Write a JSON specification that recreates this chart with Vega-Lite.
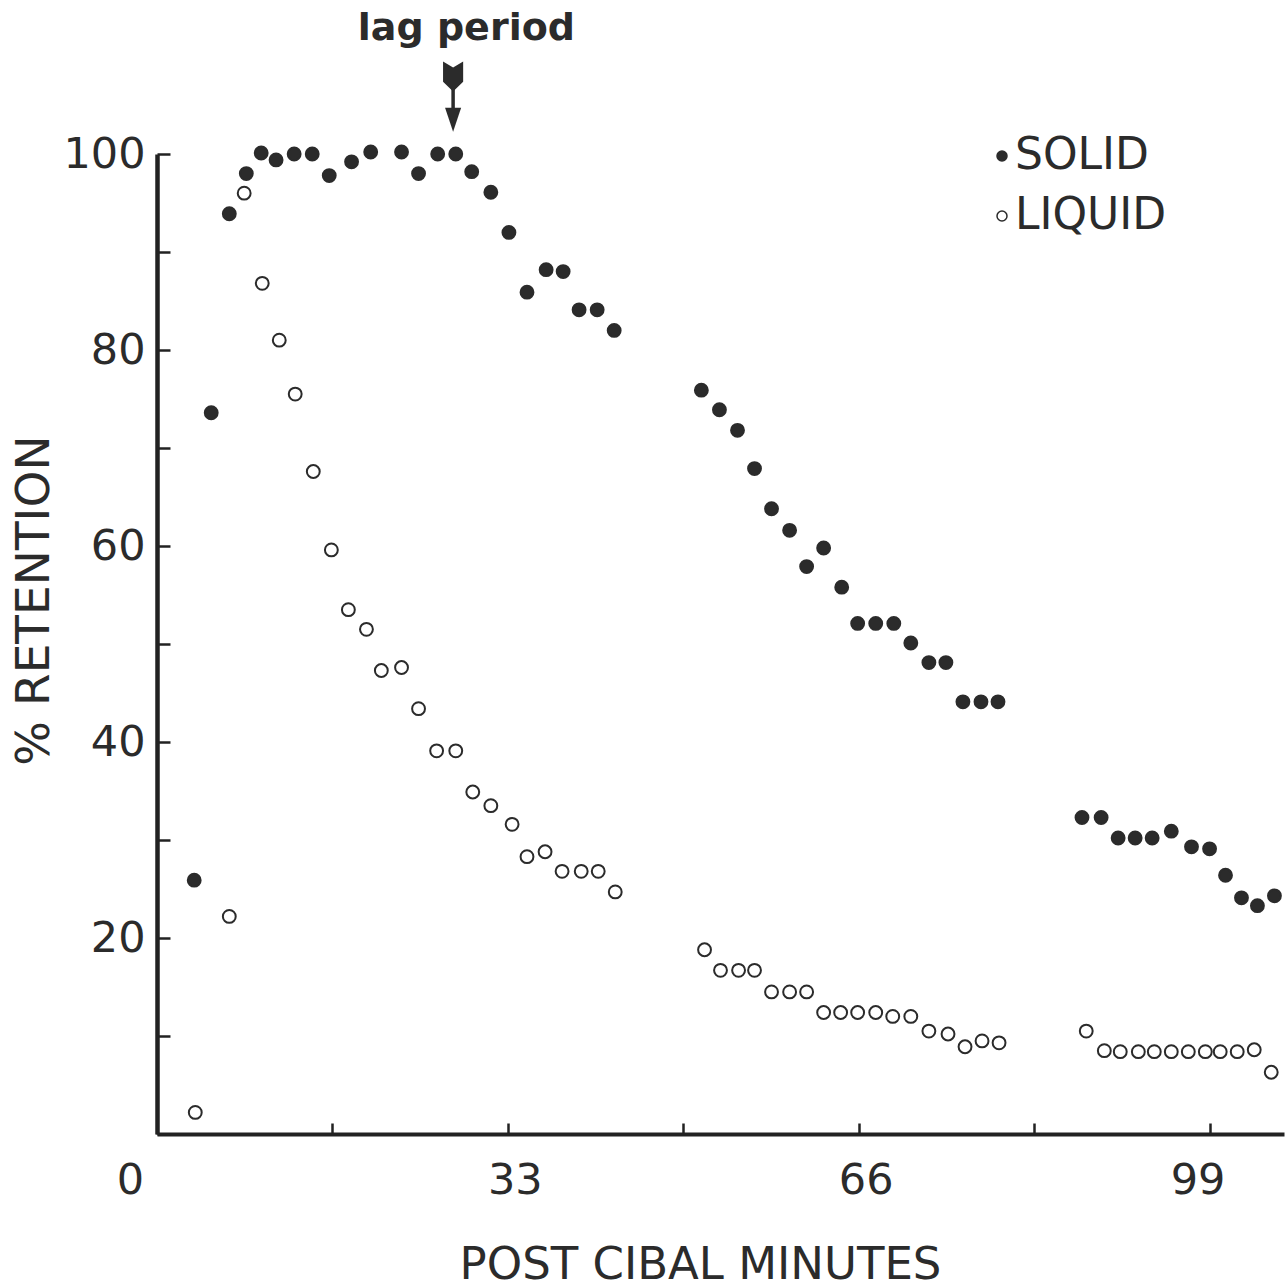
{
  "$schema": "https://vega.github.io/schema/vega-lite/v6.json",
  "width": 1127,
  "height": 980,
  "autosize": "none",
  "padding": {"left": 157, "top": 154, "right": 1, "bottom": 154},
  "background": "white",
  "config": {
    "view": {"stroke": null},
    "font": "DejaVu Sans"
  },
  "datasets": {
    "pts": [
      {"t": 3.5, "r": 25.9, "type": "SOLID"},
      {"t": 5.1, "r": 73.6, "type": "SOLID"},
      {"t": 6.8, "r": 93.9, "type": "SOLID"},
      {"t": 8.4, "r": 98.0, "type": "SOLID"},
      {"t": 9.8, "r": 100.1, "type": "SOLID"},
      {"t": 11.2, "r": 99.4, "type": "SOLID"},
      {"t": 12.9, "r": 100.0, "type": "SOLID"},
      {"t": 14.6, "r": 100.0, "type": "SOLID"},
      {"t": 16.2, "r": 97.8, "type": "SOLID"},
      {"t": 18.3, "r": 99.2, "type": "SOLID"},
      {"t": 20.1, "r": 100.2, "type": "SOLID"},
      {"t": 23.0, "r": 100.2, "type": "SOLID"},
      {"t": 24.6, "r": 98.0, "type": "SOLID"},
      {"t": 26.4, "r": 100.0, "type": "SOLID"},
      {"t": 28.1, "r": 100.0, "type": "SOLID"},
      {"t": 29.6, "r": 98.2, "type": "SOLID"},
      {"t": 31.4, "r": 96.1, "type": "SOLID"},
      {"t": 33.1, "r": 92.0, "type": "SOLID"},
      {"t": 34.8, "r": 85.9, "type": "SOLID"},
      {"t": 36.6, "r": 88.2, "type": "SOLID"},
      {"t": 38.2, "r": 88.0, "type": "SOLID"},
      {"t": 39.7, "r": 84.1, "type": "SOLID"},
      {"t": 41.4, "r": 84.1, "type": "SOLID"},
      {"t": 43.0, "r": 82.0, "type": "SOLID"},
      {"t": 51.2, "r": 75.9, "type": "SOLID"},
      {"t": 52.9, "r": 73.9, "type": "SOLID"},
      {"t": 54.6, "r": 71.8, "type": "SOLID"},
      {"t": 56.2, "r": 67.9, "type": "SOLID"},
      {"t": 57.8, "r": 63.8, "type": "SOLID"},
      {"t": 59.5, "r": 61.6, "type": "SOLID"},
      {"t": 61.1, "r": 57.9, "type": "SOLID"},
      {"t": 62.7, "r": 59.8, "type": "SOLID"},
      {"t": 64.4, "r": 55.8, "type": "SOLID"},
      {"t": 65.9, "r": 52.1, "type": "SOLID"},
      {"t": 67.6, "r": 52.1, "type": "SOLID"},
      {"t": 69.3, "r": 52.1, "type": "SOLID"},
      {"t": 70.9, "r": 50.1, "type": "SOLID"},
      {"t": 72.6, "r": 48.1, "type": "SOLID"},
      {"t": 74.2, "r": 48.1, "type": "SOLID"},
      {"t": 75.8, "r": 44.1, "type": "SOLID"},
      {"t": 77.5, "r": 44.1, "type": "SOLID"},
      {"t": 79.1, "r": 44.1, "type": "SOLID"},
      {"t": 87.0, "r": 32.3, "type": "SOLID"},
      {"t": 88.8, "r": 32.3, "type": "SOLID"},
      {"t": 90.4, "r": 30.2, "type": "SOLID"},
      {"t": 92.0, "r": 30.2, "type": "SOLID"},
      {"t": 93.6, "r": 30.2, "type": "SOLID"},
      {"t": 95.4, "r": 30.9, "type": "SOLID"},
      {"t": 97.3, "r": 29.3, "type": "SOLID"},
      {"t": 99.0, "r": 29.1, "type": "SOLID"},
      {"t": 100.5, "r": 26.4, "type": "SOLID"},
      {"t": 102.0, "r": 24.1, "type": "SOLID"},
      {"t": 103.5, "r": 23.3, "type": "SOLID"},
      {"t": 105.1, "r": 24.3, "type": "SOLID"},
      {"t": 3.6, "r": 2.2, "type": "LIQUID"},
      {"t": 6.8, "r": 22.2, "type": "LIQUID"},
      {"t": 8.2, "r": 96.0, "type": "LIQUID"},
      {"t": 9.9, "r": 86.8, "type": "LIQUID"},
      {"t": 11.5, "r": 81.0, "type": "LIQUID"},
      {"t": 13.0, "r": 75.5, "type": "LIQUID"},
      {"t": 14.7, "r": 67.6, "type": "LIQUID"},
      {"t": 16.4, "r": 59.6, "type": "LIQUID"},
      {"t": 18.0, "r": 53.5, "type": "LIQUID"},
      {"t": 19.7, "r": 51.5, "type": "LIQUID"},
      {"t": 21.1, "r": 47.3, "type": "LIQUID"},
      {"t": 23.0, "r": 47.6, "type": "LIQUID"},
      {"t": 24.6, "r": 43.4, "type": "LIQUID"},
      {"t": 26.3, "r": 39.1, "type": "LIQUID"},
      {"t": 28.1, "r": 39.1, "type": "LIQUID"},
      {"t": 29.7, "r": 34.9, "type": "LIQUID"},
      {"t": 31.4, "r": 33.5, "type": "LIQUID"},
      {"t": 33.4, "r": 31.6, "type": "LIQUID"},
      {"t": 34.8, "r": 28.3, "type": "LIQUID"},
      {"t": 36.5, "r": 28.8, "type": "LIQUID"},
      {"t": 38.1, "r": 26.8, "type": "LIQUID"},
      {"t": 39.9, "r": 26.8, "type": "LIQUID"},
      {"t": 41.5, "r": 26.8, "type": "LIQUID"},
      {"t": 43.1, "r": 24.7, "type": "LIQUID"},
      {"t": 51.5, "r": 18.8, "type": "LIQUID"},
      {"t": 53.0, "r": 16.7, "type": "LIQUID"},
      {"t": 54.7, "r": 16.7, "type": "LIQUID"},
      {"t": 56.2, "r": 16.7, "type": "LIQUID"},
      {"t": 57.8, "r": 14.5, "type": "LIQUID"},
      {"t": 59.5, "r": 14.5, "type": "LIQUID"},
      {"t": 61.1, "r": 14.5, "type": "LIQUID"},
      {"t": 62.7, "r": 12.4, "type": "LIQUID"},
      {"t": 64.3, "r": 12.4, "type": "LIQUID"},
      {"t": 65.9, "r": 12.4, "type": "LIQUID"},
      {"t": 67.6, "r": 12.4, "type": "LIQUID"},
      {"t": 69.2, "r": 12.0, "type": "LIQUID"},
      {"t": 70.9, "r": 12.0, "type": "LIQUID"},
      {"t": 72.6, "r": 10.5, "type": "LIQUID"},
      {"t": 74.4, "r": 10.2, "type": "LIQUID"},
      {"t": 76.0, "r": 8.9, "type": "LIQUID"},
      {"t": 77.6, "r": 9.5, "type": "LIQUID"},
      {"t": 79.2, "r": 9.3, "type": "LIQUID"},
      {"t": 87.4, "r": 10.5, "type": "LIQUID"},
      {"t": 89.1, "r": 8.5, "type": "LIQUID"},
      {"t": 90.6, "r": 8.4, "type": "LIQUID"},
      {"t": 92.3, "r": 8.4, "type": "LIQUID"},
      {"t": 93.8, "r": 8.4, "type": "LIQUID"},
      {"t": 95.4, "r": 8.4, "type": "LIQUID"},
      {"t": 97.0, "r": 8.4, "type": "LIQUID"},
      {"t": 98.6, "r": 8.4, "type": "LIQUID"},
      {"t": 100.0, "r": 8.4, "type": "LIQUID"},
      {"t": 101.6, "r": 8.4, "type": "LIQUID"},
      {"t": 103.2, "r": 8.6, "type": "LIQUID"},
      {"t": 104.8, "r": 6.3, "type": "LIQUID"}
    ],
    "note": [
      {"t": 29.1, "r": 111.6, "label": "lag period"}
    ],
    "shaft": [
      {"t": 27.85, "r": 103.8, "r2": 108.6}
    ],
    "head": [
      {"t": 27.85, "r": 103.5}
    ],
    "fletch": [
      {"t": 27.85, "r": 107.9}
    ]
  },
  "layer": [
    {
      "data": {"name": "pts"},
      "mark": {"type": "point", "shape": "circle", "filled": true, "size": 165, "stroke": "#2b2b2b", "strokeWidth": 2, "opacity": 1},
      "encoding": {
        "x": {
          "field": "t", "type": "quantitative",
          "scale": {"domain": [0, 106], "nice": false, "zero": true},
          "axis": {
            "title": "POST CIBAL MINUTES",
            "values": [0, 16.5, 33, 49.5, 66, 82.5, 99],
            "labelExpr": "datum.value % 33 == 0 ? datum.label : ''",
            "labelFlush": false,
            "labelOffset": {"condition": [{"test": "datum.value == 0", "value": -27}, {"test": "datum.value == 99", "value": -12}], "value": 7},
            "grid": false,
            "domainColor": "#222222", "domainWidth": 4,
            "tickColor": "#222222", "tickWidth": 2.5, "tickSize": -11,
            "labelFont": "DejaVu Sans", "labelFontSize": 43, "labelColor": "#2b2b2b",
            "labelPadding": 36, "labelBaseline": "top",
            "titleFont": "DejaVu Sans", "titleFontSize": 45, "titleFontWeight": "normal", "titleColor": "#2b2b2b",
            "titleX": 543, "titleY": 144, "titleBaseline": "alphabetic", "titleAnchor": null, "titleAlign": "center"
          }
        },
        "y": {
          "field": "r", "type": "quantitative",
          "scale": {"domain": [0, 100], "nice": false},
          "axis": {
            "title": "% RETENTION",
            "values": [0, 10, 20, 30, 40, 50, 60, 70, 80, 90, 100],
            "labelExpr": "datum.value > 0 && datum.value % 20 == 0 ? datum.label : ''",
            "grid": false,
            "domainColor": "#222222", "domainWidth": 4.5,
            "tickColor": "#222222", "tickWidth": 2.5, "tickSize": -13,
            "labelFont": "DejaVu Sans", "labelFontSize": 43, "labelColor": "#2b2b2b",
            "labelPadding": 25,
            "titleFont": "DejaVu Sans", "titleFontSize": 47, "titleFontWeight": "normal", "titleColor": "#2b2b2b",
            "titleAngle": -90, "titleX": -109, "titleY": 446, "titleBaseline": "alphabetic", "titleAlign": "center", "titleAnchor": null
          }
        },
        "fill": {
          "field": "type", "type": "nominal",
          "scale": {"domain": ["SOLID", "LIQUID"], "range": ["#2b2b2b", "#ffffff"]},
          "legend": {
            "title": null,
            "orient": "none", "legendX": 823, "legendY": -20,
            "labelFont": "DejaVu Sans", "labelFontSize": 44, "labelColor": "#2b2b2b",
            "symbolType": "circle", "symbolSize": 100, "symbolStrokeColor": "#2b2b2b", "symbolStrokeWidth": 1.5,
            "labelOffset": -9, "rowPadding": 16, "padding": 0
          }
        }
      }
    },
    {
      "data": {"name": "note"},
      "mark": {"type": "text", "font": "DejaVu Sans", "fontSize": 38, "fontWeight": "bold", "color": "#2b2b2b", "baseline": "alphabetic", "align": "center"},
      "encoding": {
        "x": {"field": "t", "type": "quantitative"},
        "y": {"field": "r", "type": "quantitative"},
        "text": {"field": "label", "type": "nominal"}
      }
    },
    {
      "data": {"name": "shaft"},
      "mark": {"type": "rule", "color": "#2b2b2b", "strokeWidth": 3.5},
      "encoding": {
        "x": {"field": "t", "type": "quantitative"},
        "y": {"field": "r", "type": "quantitative"},
        "y2": {"field": "r2"}
      }
    },
    {
      "data": {"name": "head"},
      "mark": {"type": "point", "shape": "M-0.67,-1L0.67,-1L0,1Z", "filled": true, "size": 576, "color": "#2b2b2b", "opacity": 1},
      "encoding": {
        "x": {"field": "t", "type": "quantitative"},
        "y": {"field": "r", "type": "quantitative"}
      }
    },
    {
      "data": {"name": "fletch"},
      "mark": {"type": "point", "shape": "M-0.67,-1L0,-0.6L0.67,-1L0.67,0.35L0,1L-0.67,0.35Z", "filled": true, "size": 900, "color": "#2b2b2b", "opacity": 1},
      "encoding": {
        "x": {"field": "t", "type": "quantitative"},
        "y": {"field": "r", "type": "quantitative"}
      }
    }
  ]
}
